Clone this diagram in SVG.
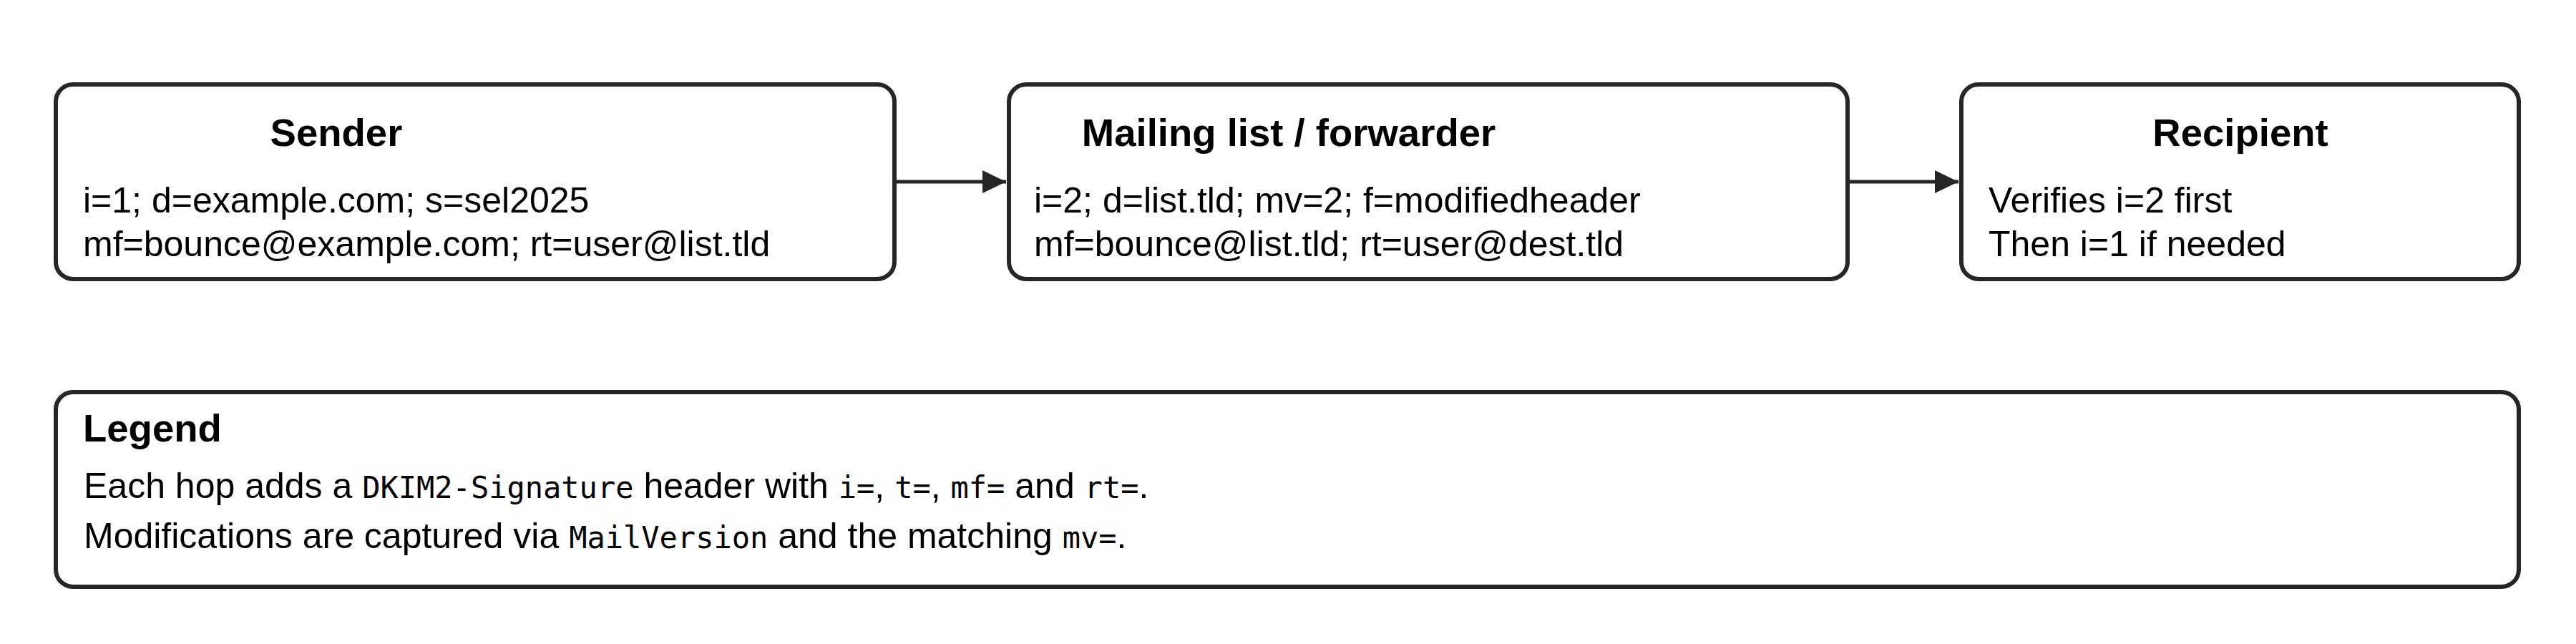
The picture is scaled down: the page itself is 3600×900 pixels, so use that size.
<svg xmlns="http://www.w3.org/2000/svg" width="3600" height="900" viewBox="0 0 3600 900">
  <style>
    .box { fill: #ffffff; stroke: #262626; stroke-width: 6; }
    .title { font-family: "Liberation Sans", Arial, sans-serif; font-weight: bold; font-size: 54.5px; fill: #000; text-anchor: middle; }
    .ltitle { font-family: "Liberation Sans", Arial, sans-serif; font-weight: bold; font-size: 54.5px; fill: #000; }
    .body { font-family: "Liberation Sans", Arial, sans-serif; font-size: 50px; fill: #000; }
    .mono { font-family: "DejaVu Sans Mono", "Liberation Mono", monospace; font-size: 42px; }
    .edge { stroke: #262626; stroke-width: 5; fill: none; }
  </style>
  <defs>
    <marker id="arrow" viewBox="0 0 33 32" refX="33" refY="16" markerWidth="33" markerHeight="32" markerUnits="userSpaceOnUse" orient="auto">
      <path d="M0,0 L33,16 L0,32 Z" fill="#262626"/>
    </marker>
  </defs>
  <rect x="0" y="0" width="3600" height="900" fill="#ffffff"/>

  <g id="connectors">
    <line class="edge" x1="1253" y1="254" x2="1406" y2="254" marker-end="url(#arrow)"/>
    <line class="edge" x1="2585" y1="254" x2="2737" y2="254" marker-end="url(#arrow)"/>
  </g>

  <g id="node-sender">
    <rect class="box" x="78" y="118" width="1172" height="272" rx="24" ry="24"/>
    <text class="title" x="470" y="204">Sender</text>
    <text class="body" x="116" y="297">i=1; d=example.com; s=sel2025</text>
    <text class="body" x="116" y="358">mf=bounce@example.com; rt=user@list.tld</text>
  </g>

  <g id="node-forwarder">
    <rect class="box" x="1410" y="118" width="1172" height="272" rx="24" ry="24"/>
    <text class="title" x="1801" y="204">Mailing list / forwarder</text>
    <text class="body" x="1445" y="297">i=2; d=list.tld; mv=2; f=modifiedheader</text>
    <text class="body" x="1445" y="358">mf=bounce@list.tld; rt=user@dest.tld</text>
  </g>

  <g id="node-recipient">
    <rect class="box" x="2741" y="118" width="779" height="272" rx="24" ry="24"/>
    <text class="title" x="3131" y="204">Recipient</text>
    <text class="body" x="2779" y="297">Verifies i=2 first</text>
    <text class="body" x="2779" y="358">Then i=1 if needed</text>
  </g>

  <g id="legend">
    <rect class="box" x="78" y="548" width="3442" height="272" rx="24" ry="24"/>
    <text class="ltitle" x="116" y="617">Legend</text>
    <text class="body" x="117" y="696">Each hop adds a <tspan class="mono">DKIM2-Signature</tspan> header with <tspan class="mono">i=</tspan>, <tspan class="mono">t=</tspan>, <tspan class="mono">mf=</tspan> and <tspan class="mono">rt=</tspan>.</text>
    <text class="body" x="117" y="766">Modifications are captured via <tspan class="mono">MailVersion</tspan> and the matching <tspan class="mono">mv=</tspan>.</text>
  </g>
</svg>
